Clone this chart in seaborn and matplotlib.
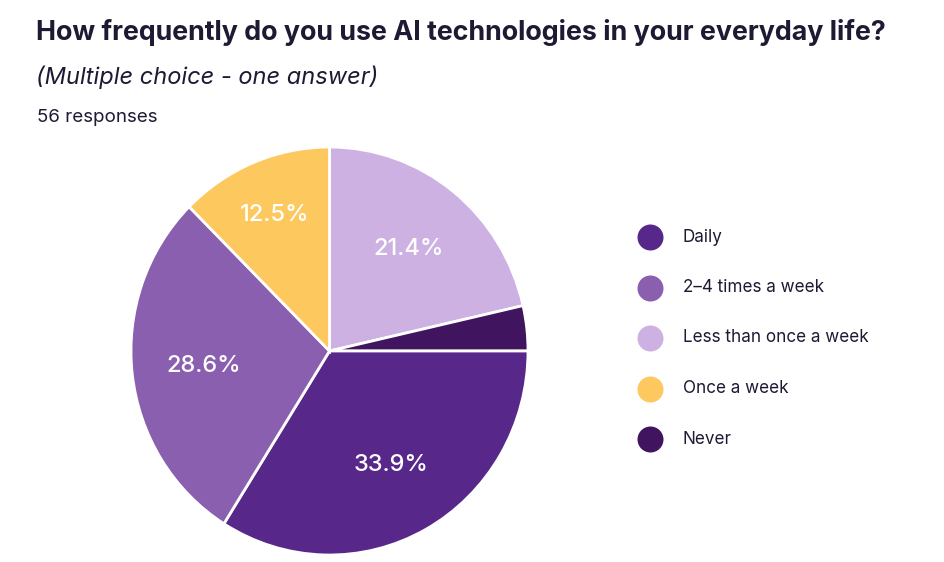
import matplotlib
matplotlib.use("Agg")
import matplotlib.pyplot as plt
import seaborn as sns

# Survey answers, drawn clockwise from 12 o'clock
slice_labels = ["Less than once a week", "Never", "Daily", "2\u20134 times a week", "Once a week"]
slice_counts = [12, 2, 19, 16, 7]
slice_colors = ["#cdb1e2", "#411460", "#57288a", "#8b5fb0", "#fdc85e"]

# Legend order
legend_labels = ["Daily", "2\u20134 times a week", "Less than once a week", "Once a week", "Never"]

title = "How frequently do you use AI technologies in your everyday life?"
subtitle = "(Multiple choice - one answer)"
responses = "56 responses"

sns.set_theme(style="white")
plt.rcParams["font.family"] = ["Inter", "DejaVu Sans"]

W, H = 945, 562
fig = plt.figure(figsize=(W / 100, H / 100), dpi=100)
fig.patch.set_facecolor("white")

text_color = "#1d1a33"

def fx(px):
    return px / W

def fy(py):
    return 1 - py / H

fig.text(fx(36), fy(40.5), title, fontsize=19.3, fontweight="bold", color=text_color,
         va="baseline", ha="left")
fig.text(fx(36), fy(84), subtitle, fontsize=17, fontstyle="italic", color=text_color,
         va="baseline", ha="left")
fig.text(fx(37), fy(122), responses, fontsize=13.5, color=text_color, va="baseline", ha="left")

# Pie
cx, cy, rx, ry = 329.5, 351, 198.5, 204
ax = fig.add_axes([fx(cx - rx), fy(cy + ry), 2 * rx / W, 2 * ry / H])
palette = sns.color_palette(slice_colors)
total = sum(slice_counts)

def pct_fmt(p):
    return f"{p:.1f}%" if p > 5 else ""

wedges, texts, autotexts = ax.pie(
    slice_counts, colors=palette, startangle=90, counterclock=False,
    autopct=pct_fmt, pctdistance=0.64,
    wedgeprops=dict(edgecolor="white", linewidth=2),
    textprops=dict(color="white", fontsize=17, fontweight="medium"),
)
# the narrow yellow slice carries its label further out
for w, t, c in zip(wedges, autotexts, slice_counts):
    w.set_clip_on(False)
    if c / total < 0.15 and t.get_text():
        x, y = t.get_position()
        t.set_position((x * 1.13, y * 1.13))
ax.set_xlim(-1, 1)
ax.set_ylim(-1, 1)
ax.set_aspect("auto")
ax.axis("off")

# Legend
color_of = dict(zip(slice_labels, palette))
lax = fig.add_axes([0, 0, 1, 1])
lax.set_xlim(0, W)
lax.set_ylim(H, 0)
lax.axis("off")
for i, name in enumerate(legend_labels):
    y = 237 + i * 50.5
    lax.scatter([650], [y], s=(26 * 0.72) ** 2, color=color_of[name], linewidths=0)
    lax.text(683, y, name, fontsize=12.3, color=text_color, va="center", ha="left")

fig.savefig("out.png", dpi=100, facecolor="white")
